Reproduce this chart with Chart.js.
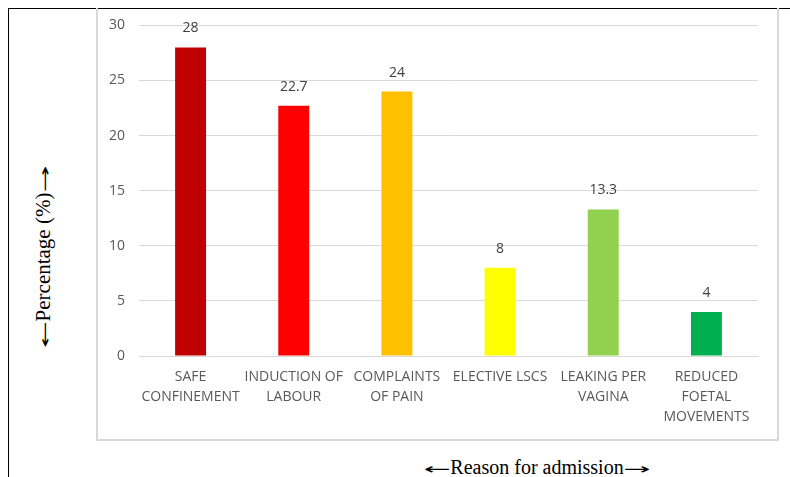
<!DOCTYPE html>
<html>
<head>
<meta charset="utf-8">
<script src="https://cdn.jsdelivr.net/npm/chart.js@4.4.0/dist/chart.umd.min.js"></script>
<style>
  body { margin: 0; background: #fff; }
  #frame {
    position: absolute; left: 8px; top: 8px; width: 782px; height: 469px;
    border-top: 1.5px solid #000; border-left: 1.5px solid #000;
  }
  #box {
    position: absolute; left: 96px; top: 8px; width: 679px; height: 431px;
    border: 2px solid #d9d9d9; border-top: none;
  }
  #admissionChart { position: absolute; left: 0; top: -5px; }
  .axisTitle {
    position: absolute; white-space: nowrap; color: #000;
    font-family: "Liberation Serif", serif;
  }
  .arrow {
    display: inline-block; width: 27px; overflow: visible;
    font-family: "DejaVu Sans", sans-serif; font-size: 15px; text-align: left;
  }
  .arrow span { display: inline-block; transform-origin: left center; transform: scaleX(2.15); }
  #yTitle {
    left: 43px; top: 257px; font-size: 21px;
    transform: translate(-50%, -50%) rotate(-90deg);
  }
  #xTitle {
    left: 537px; top: 467px; font-size: 20px;
    transform: translate(-50%, -50%);
  }
</style>
</head>
<body>
<div id="frame"></div>
<div id="box"><canvas id="admissionChart" width="679" height="436"></canvas></div>
<div id="yTitle" class="axisTitle"><span class="arrow"><span>←</span></span>Percentage (%)<span class="arrow"><span>→</span></span></div>
<div id="xTitle" class="axisTitle"><span class="arrow"><span>←</span></span>Reason for admission<span class="arrow"><span>→</span></span></div>
<script>
const reasons = [
  ['SAFE', 'CONFINEMENT'],
  ['INDUCTION OF', 'LABOUR'],
  ['COMPLAINTS', 'OF PAIN'],
  ['ELECTIVE LSCS'],
  ['LEAKING PER', 'VAGINA'],
  ['REDUCED', 'FOETAL', 'MOVEMENTS']
];
const percentages = [28, 22.7, 24, 8, 13.3, 4];
const barColors = ['#C00000', '#FF0000', '#FFC000', '#FFFF00', '#92D050', '#00B050'];
const yTicks = [0, 5, 10, 15, 20, 25, 30];

// value labels above each bar
const valueLabels = {
  id: 'valueLabels',
  afterDatasetsDraw(chart) {
    const ctx = chart.ctx;
    const meta = chart.getDatasetMeta(0);
    ctx.save();
    ctx.font = '14px "Open Sans", sans-serif';
    ctx.fillStyle = '#404040';
    ctx.textAlign = 'center';
    ctx.textBaseline = 'middle';
    meta.data.forEach((bar, i) => {
      ctx.fillText(String(percentages[i]), bar.x, bar.y - 19);
    });
    ctx.restore();
  }
};

const ctx = document.getElementById('admissionChart').getContext('2d');
new Chart(ctx, {
  type: 'bar',
  data: {
    labels: reasons,
    datasets: [{
      data: percentages,
      backgroundColor: barColors,
      barPercentage: 0.3,
      categoryPercentage: 1
    }]
  },
  options: {
    responsive: false,
    animation: false,
    layout: { padding: { top: 11, right: 19, left: 0, bottom: 0 } },
    plugins: { legend: { display: false }, tooltip: { enabled: false } },
    scales: {
      x: {
        grid: { display: false, drawTicks: false },
        border: { color: '#d9d9d9', width: 1 },
        ticks: {
          color: '#595959',
          font: { family: '"Open Sans", sans-serif', size: 14, lineHeight: '20px' },
          padding: 11,
          maxRotation: 0,
          autoSkip: false
        },
        afterFit(scale) { scale.height = 83; }
      },
      y: {
        min: 0,
        max: 30,
        afterBuildTicks(scale) { scale.ticks = yTicks.map(v => ({ value: v })); },
        grid: { color: '#d9d9d9', drawTicks: false },
        border: { display: false },
        ticks: {
          color: '#595959',
          font: { family: '"Open Sans", sans-serif', size: 14 },
          padding: 14
        },
        afterFit(scale) { scale.width = 41; }
      }
    }
  },
  plugins: [valueLabels]
});
</script>
</body>
</html>
